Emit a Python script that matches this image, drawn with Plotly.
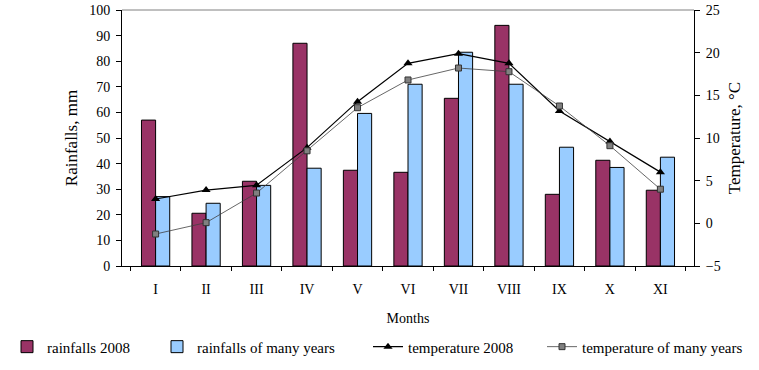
import plotly.graph_objects as go

months = ["I", "II", "III", "IV", "V", "VI", "VII", "VIII", "IX", "X", "XI"]
rain_2008 = [57, 20.6, 33.1, 87.0, 37.4, 36.6, 65.5, 94.0, 28.0, 41.3, 29.6]
rain_many = [27.1, 24.5, 31.5, 38.2, 59.6, 71.0, 83.5, 71.0, 46.4, 38.5, 42.5]
temp_2008 = [2.85, 3.9, 4.46, 8.87, 14.26, 18.75, 19.88, 18.75, 13.16, 9.6, 6.0]
temp_many = [-1.25, 0.08, 3.55, 8.5, 13.55, 16.8, 18.2, 17.77, 13.75, 9.1, 4.0]

FONT = "Liberation Serif, Times New Roman, serif"
L, R, T, B = 122, 65, 10, 104
W, H = 759, 370
PW = W - L - R

fig = go.Figure()
fig.add_trace(go.Bar(x=months, y=rain_2008, name="rainfalls 2008",
                     marker=dict(color="#993366", line=dict(color="black", width=1)),
                     legend="legend"))
fig.add_trace(go.Bar(x=months, y=rain_many, name="rainfalls of many years",
                     marker=dict(color="#99CCFF", line=dict(color="black", width=1)),
                     legend="legend2"))
fig.add_trace(go.Scatter(x=months, y=temp_2008, name="temperature 2008", yaxis="y2",
                         mode="lines+markers",
                         line=dict(color="black", width=1.2),
                         marker=dict(symbol="triangle-up", size=8, color="black"),
                         legend="legend3"))
fig.add_trace(go.Scatter(x=months, y=temp_many, name="temperature of many years", yaxis="y2",
                         mode="lines+markers",
                         line=dict(color="#404040", width=0.8),
                         marker=dict(symbol="square", size=6, color="#808080",
                                     line=dict(color="#333333", width=1)),
                         legend="legend4"))

leg_common = dict(orientation="h", yanchor="middle", y=-0.316, xanchor="left",
                  bgcolor="rgba(0,0,0,0)", font=dict(family=FONT, size=15, color="black"))

fig.update_layout(
    width=W, height=H, autosize=False, showlegend=True,
    margin=dict(l=L, r=R, t=T, b=B, autoexpand=False),
    paper_bgcolor="white", plot_bgcolor="white",
    font=dict(family=FONT, size=14, color="black"),
    barmode="group", bargap=0.44, bargroupgap=0,
    xaxis=dict(type="category", tickson="boundaries", ticks="outside", ticklen=4,
               tickcolor="black", showline=True, linecolor="black", linewidth=1,
               showgrid=False, zeroline=False, ticklabelstandoff=10, automargin=False,
               title=dict(text="Months", standoff=17, font=dict(size=14))),
    xaxis2=dict(overlaying="x", anchor="y", side="bottom", range=[-0.5, 10.5],
                tickmode="linear", tick0=-0.5, dtick=1, ticks="inside", ticklen=4,
                tickcolor="black", showticklabels=False, showline=False,
                showgrid=False, zeroline=False, automargin=False),
    yaxis=dict(range=[0, 100], tickmode="linear", dtick=10, ticks="outside", ticklen=5,
               tickcolor="black", showline=True, linecolor="black", showgrid=False,
               zeroline=False, ticklabelstandoff=3, automargin=False,
               title=dict(text="Rainfalls, mm", standoff=7)),
    yaxis2=dict(overlaying="y", side="right", anchor="x", range=[-5, 25], tickmode="linear",
                dtick=5, ticks="outside", ticklen=5, tickcolor="black", showline=True,
                linecolor="black", showgrid=False, zeroline=False, ticklabelstandoff=3,
                automargin=False, title=dict(text="Temperature, °C", standoff=8)),
    yaxis3=dict(overlaying="y", side="left", anchor="x", range=[0, 100], tickmode="linear",
                dtick=10, ticks="inside", ticklen=5, tickcolor="black", automargin=False,
                showticklabels=False, showline=False, showgrid=False, zeroline=False),
    yaxis4=dict(overlaying="y", side="right", anchor="x", range=[-5, 25], tickmode="linear",
                dtick=5, ticks="inside", ticklen=5, tickcolor="black", automargin=False,
                showticklabels=False, showline=False, showgrid=False, zeroline=False),
    legend=dict(x=(7 - L) / PW, **leg_common),
    legend2=dict(x=(157 - L) / PW, **leg_common),
    legend3=dict(x=(368 - L) / PW, **leg_common),
    legend4=dict(x=(542 - L) / PW, **leg_common),
    shapes=[dict(type="line", xref="paper", yref="paper", x0=0, x1=1, y0=1, y1=1,
                 line=dict(color="#808080", width=1))],
)

post = (
    "document.body.style.margin='0px';"
    "var gd=document.getElementById('{plot_id}');"
    "Plotly.newPlot(gd, gd.data, gd.layout, {displayModeBar:false});"
)
fig.write_html("out.html", post_script=post, config={"displayModeBar": False})
